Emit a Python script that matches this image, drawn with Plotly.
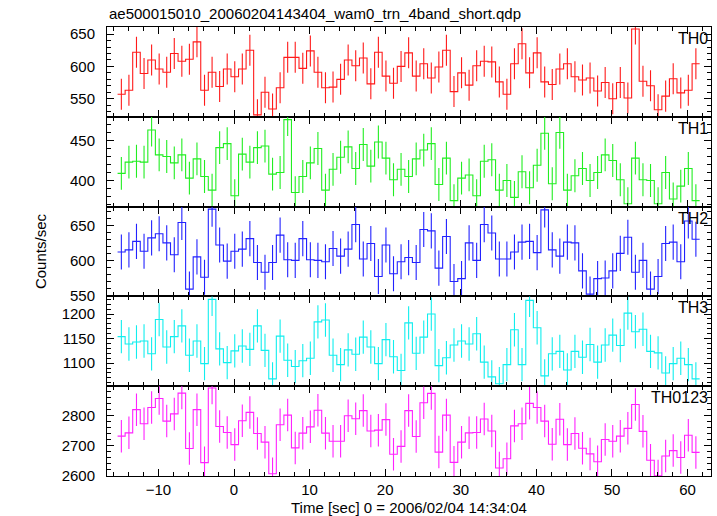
import numpy as np
import plotly.graph_objects as go
from plotly.subplots import make_subplots

# ---- data ----
N_BINS = 77
TIME_START = -14.9          # centre of first 1-s bin (sec)
BIN_WIDTH = 1.0
time_centres = TIME_START + BIN_WIDTH * np.arange(N_BINS)

TH0 = [557, 563, 622, 589, 610, 596, 591, 620, 608, 611, 638, 563, 591, 569, 596, 584, 596, 625,
       525, 560, 534, 567, 614, 614, 597, 624, 591, 567, 568, 580, 610, 601, 613, 573, 622, 585,
       574, 600, 621, 585, 604, 582, 599, 625, 561, 590, 571, 601, 608, 607, 576, 557, 604, 635,
       590, 621, 576, 572, 596, 604, 584, 579, 582, 562, 575, 550, 575, 551, 658, 577, 570, 533,
       554, 581, 559, 563, 604]
TH1 = [409, 423, 424, 423, 463, 432, 430, 422, 432, 403, 427, 405, 388, 441, 446, 381, 433, 423,
       441, 443, 408, 410, 476, 385, 405, 422, 440, 388, 414, 429, 442, 415, 445, 418, 448, 428,
       401, 414, 405, 427, 438, 446, 395, 428, 375, 403, 407, 381, 424, 426, 388, 400, 379, 411,
       391, 419, 459, 396, 460, 388, 406, 415, 400, 410, 432, 425, 401, 371, 428, 401, 400, 371,
       410, 377, 393, 415, 375]
TH2 = [612, 615, 627, 613, 632, 638, 625, 608, 654, 559, 605, 576, 673, 622, 599, 613, 616, 631,
       597, 583, 597, 636, 601, 600, 631, 601, 600, 598, 617, 606, 616, 651, 602, 624, 577, 622,
       581, 598, 604, 597, 644, 642, 589, 634, 570, 574, 625, 600, 651, 639, 602, 602, 612, 626,
       627, 611, 672, 615, 606, 626, 625, 585, 552, 574, 575, 585, 610, 633, 583, 600, 559, 577,
       624, 626, 598, 656, 630]
TH3 = [1154, 1139, 1143, 1145, 1119, 1189, 1133, 1154, 1176, 1116, 1145, 1099, 1230, 1129, 1101,
       1125, 1135, 1128, 1176, 1126, 1068, 1155, 1106, 1093, 1105, 1110, 1184, 1188, 1116, 1097,
       1127, 1118, 1153, 1133, 1099, 1148,
       1113, 1085, 1182, 1120, 1153, 1200, 1095, 1111, 1137, 1145, 1139, 1160, 1102, 1072, 1058,
       1097, 1168, 1097, 1228, 1172, 1074, 1119, 1124, 1086, 1124, 1112, 1138, 1102, 1137, 1157,
       1136, 1202, 1164, 1169, 1124, 1121, 1080, 1099, 1110, 1097, 1068]
TH0123 = [2731, 2742, 2819, 2772, 2826, 2856, 2781, 2805, 2874, 2690, 2819, 2643, 2891, 2763, 2743,
          2703, 2782, 2810, 2740, 2711, 2606, 2769, 2801, 2692, 2741, 2762, 2817, 2741, 2714, 2714,
          2799, 2789, 2816, 2748, 2751, 2786,
          2671, 2697, 2816, 2730, 2842, 2873, 2678, 2801, 2644, 2711, 2742, 2743, 2788, 2748, 2625,
          2656, 2765, 2772, 2840, 2826, 2781, 2704, 2787, 2703, 2740, 2691, 2672, 2646, 2720, 2714,
          2731, 2757, 2836, 2747, 2651, 2599, 2665, 2683, 2660, 2734, 2677]

# typical 1-sigma error bar half-length
ERRORS = [24, 20.5, 25, 34, 54]
LABELS = ["TH0", "TH1", "TH2", "TH3", "TH0123"]
SERIES = [TH0, TH1, TH2, TH3, TH0123]
COLORS = ["#ff1a1a", "#22ee22", "#2222ff", "#11eeee", "#ff22ff"]
Y_RANGES = [[522, 661], [367.5, 479.5], [548.7, 676.6], [1053, 1236], [2598.6, 2897]]
Y_DTICK = [50, 50, 50, 50, 100]
Y_MINOR = [10, 10, 10, 10, 20]
X_RANGE = [-16.8, 63.1]

TITLE = "ae500015010_20060204143404_wam0_trn_4band_short.qdp"
XTITLE = "Time [sec] 0 = 2006/02/04 14:34:04"
YTITLE = "Counts/sec"

FONT = "Liberation Sans, Arial, Helvetica, sans-serif"

fig = make_subplots(rows=5, cols=1, shared_xaxes=True, vertical_spacing=0)

edges = list(time_centres - BIN_WIDTH / 2) + [time_centres[-1] + BIN_WIDTH / 2]

for k, (vals, col, err) in enumerate(zip(SERIES, COLORS, ERRORS)):
    row = k + 1
    fig.add_trace(go.Scatter(
        x=edges, y=list(vals) + [vals[-1]], mode="lines",
        line=dict(color=col, width=1.1, shape="hv"), showlegend=False,
        hoverinfo="skip"), row=row, col=1)
    fig.add_trace(go.Scatter(
        x=time_centres, y=vals, mode="markers",
        marker=dict(size=0.1, color=col, opacity=0),
        error_y=dict(type="constant", value=err, color=col, thickness=1.1, width=0),
        showlegend=False), row=row, col=1)

common_axis = dict(showline=True, linecolor="black", linewidth=1, mirror="allticks",
                   ticks="inside", ticklen=7, tickwidth=1, tickcolor="black",
                   showgrid=False, zeroline=False,
                   tickfont=dict(family=FONT, size=15, color="black"))

for k in range(5):
    row = k + 1
    fig.update_xaxes(range=X_RANGE, dtick=10, tick0=0,
                     minor=dict(dtick=2, ticklen=4, ticks="inside", tickcolor="black"),
                     row=row, col=1, **common_axis)
    fig.update_yaxes(range=Y_RANGES[k], dtick=Y_DTICK[k], tick0=0,
                     minor=dict(dtick=Y_MINOR[k], ticklen=4, ticks="inside", tickcolor="black"),
                     ticklabelstandoff=8,
                     row=row, col=1, **common_axis)

fig.update_xaxes(showticklabels=True, ticklabelstandoff=0, row=5, col=1)

annotations = []
for k in range(5):
    yaxis_name = "yaxis" if k == 0 else f"yaxis{k+1}"
    dom = fig.layout[yaxis_name].domain
    annotations.append(dict(text=LABELS[k], xref="paper", yref="paper", x=1, y=dom[1],
                            xanchor="right", yanchor="top", xshift=-1, yshift=-1,
                            showarrow=False, font=dict(family=FONT, size=16, color="black")))
annotations.append(dict(text=TITLE, xref="paper", yref="paper", x=0, y=1, xanchor="left",
                        yanchor="bottom", yshift=3, showarrow=False,
                        font=dict(family=FONT, size=15, color="black")))
annotations.append(dict(text=YTITLE, xref="paper", yref="paper", x=-0.11, y=0.5,
                        xanchor="center", yanchor="middle", textangle=-90, showarrow=False,
                        font=dict(family=FONT, size=15, color="black")))
annotations.append(dict(text=XTITLE, xref="paper", yref="paper", x=0.5, y=0, xanchor="center",
                        yanchor="top", yshift=-21, showarrow=False,
                        font=dict(family=FONT, size=15, color="black")))

fig.update_layout(width=717, height=516, margin=dict(l=107, r=6, t=27, b=40),
                  plot_bgcolor="white", paper_bgcolor="white",
                  annotations=annotations, font=dict(family=FONT))

# remove the default page margin so the 717x516 figure fills the window exactly
fig.write_html("out.html",
               config={"displayModeBar": False},
               post_script="document.body.style.margin='0';"
                           "document.body.style.overflow='hidden';")
